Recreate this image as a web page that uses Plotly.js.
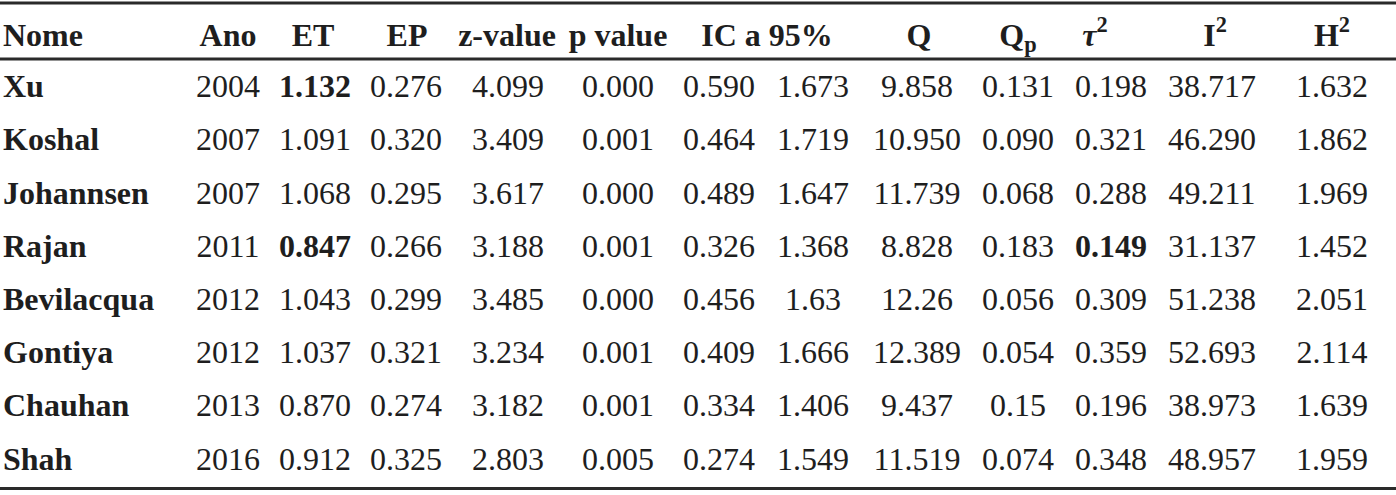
<!DOCTYPE html>
<html>
<head>
<meta charset="utf-8">
<script src="https://cdn.plot.ly/plotly-3.0.1.min.js"></script>
<style>
  html, body { margin: 0; padding: 0; background: #fff; }
  #graph { width: 1396px; height: 495px; }
</style>
</head>
<body>
<div id="graph"></div>
<script>
// table data
var names = ['Xu', 'Koshal', 'Johannsen', 'Rajan', 'Bevilacqua', 'Gontiya', 'Chauhan', 'Shah'];
var ano = ['2004', '2007', '2007', '2011', '2012', '2012', '2013', '2016'];
var et = ['1.132', '1.091', '1.068', '0.847', '1.043', '1.037', '0.870', '0.912'];
var ep = ['0.276', '0.320', '0.295', '0.266', '0.299', '0.321', '0.274', '0.325'];
var zValue = ['4.099', '3.409', '3.617', '3.188', '3.485', '3.234', '3.182', '2.803'];
var pValue = ['0.000', '0.001', '0.000', '0.001', '0.000', '0.001', '0.001', '0.005'];
var icLow = ['0.590', '0.464', '0.489', '0.326', '0.456', '0.409', '0.334', '0.274'];
var icHigh = ['1.673', '1.719', '1.647', '1.368', '1.63', '1.666', '1.406', '1.549'];
var q = ['9.858', '10.950', '11.739', '8.828', '12.26', '12.389', '9.437', '11.519'];
var qp = ['0.131', '0.090', '0.068', '0.183', '0.056', '0.054', '0.15', '0.074'];
var tau2 = ['0.198', '0.321', '0.288', '0.149', '0.309', '0.359', '0.196', '0.348'];
var i2 = ['38.717', '46.290', '49.211', '31.137', '51.238', '52.693', '38.973', '48.957'];
var h2 = ['1.632', '1.862', '1.969', '1.452', '2.051', '2.114', '1.639', '1.959'];

// header labels
var headers = ['Nome', 'Ano', 'ET', 'EP', 'z-value', 'p value', 'IC a 95%',
  'Q', 'Q<sub>p</sub>', '<i>τ</i><sup>2</sup>', 'I<sup>2</sup>', 'H<sup>2</sup>'];

// cells printed in bold: [column name, row name]
var boldCells = [['et', 'Xu'], ['et', 'Rajan'], ['tau2', 'Rajan']];

// layout: column centres (px)
var dataCols = [
  {key: 'ano', vals: ano, x: 228},
  {key: 'et', vals: et, x: 315},
  {key: 'ep', vals: ep, x: 406},
  {key: 'z', vals: zValue, x: 508},
  {key: 'p', vals: pValue, x: 618},
  {key: 'icLow', vals: icLow, x: 719},
  {key: 'icHigh', vals: icHigh, x: 813},
  {key: 'q', vals: q, x: 917},
  {key: 'qp', vals: qp, x: 1018},
  {key: 'tau2', vals: tau2, x: 1111},
  {key: 'i2', vals: i2, x: 1212},
  {key: 'h2', vals: h2, x: 1332}
];
var headerX = [228, 313, 407, 507, 618, 767, 919, 1018, 1095, 1215, 1332];
var nameX = 3;

var font = 'Liberation Serif, Times New Roman, serif';
var ink = '#1e1e1e';
var fsize = 32;

var rows = names.map(function(n, i) { return i + 1; });

function isBold(key, name) {
  return boldCells.some(function(c) { return c[0] === key && c[1] === name; });
}

var data = [];

// header row
data.push({
  x: [nameX], y: [0.03], text: ['<b>' + headers[0] + '</b>'],
  mode: 'text', textposition: 'middle right',
  textfont: {family: font, size: fsize, color: ink},
  hoverinfo: 'skip', showlegend: false
});
data.push({
  x: headerX, y: headerX.map(function() { return 0.03; }),
  text: headers.slice(1).map(function(h) { return '<b>' + h + '</b>'; }),
  mode: 'text', textposition: 'middle center',
  textfont: {family: font, size: fsize, color: ink},
  hoverinfo: 'skip', showlegend: false
});

// name column
data.push({
  x: names.map(function() { return nameX; }), y: rows,
  text: names.map(function(n) { return '<b>' + n + '</b>'; }),
  mode: 'text', textposition: 'middle right',
  textfont: {family: font, size: fsize, color: ink},
  hoverinfo: 'skip', showlegend: false
});

// value columns
dataCols.forEach(function(col) {
  data.push({
    x: col.vals.map(function() { return col.x; }), y: rows,
    text: col.vals.map(function(v, i) {
      return isBold(col.key, names[i]) ? '<b>' + v + '</b>' : v;
    }),
    mode: 'text', textposition: 'middle center',
    textfont: {family: font, size: fsize, color: ink},
    hoverinfo: 'skip', showlegend: false
  });
});

function rule(yv) {
  return {type: 'line', xref: 'paper', x0: 0, x1: 1, yref: 'y', y0: yv, y1: yv,
    line: {color: '#2a2a2a', width: 3}};
}

var layout = {
  width: 1396, height: 495,
  margin: {l: 0, r: 0, t: 0, b: 0},
  paper_bgcolor: '#fff', plot_bgcolor: '#fff',
  xaxis: {range: [0, 1396], visible: false, fixedrange: true},
  yaxis: {range: [8.627, -0.677], visible: false, fixedrange: true},
  shapes: [rule(-0.62), rule(0.432), rule(8.505)]
};

Plotly.newPlot('graph', data, layout, {staticPlot: true});
</script>
</body>
</html>
